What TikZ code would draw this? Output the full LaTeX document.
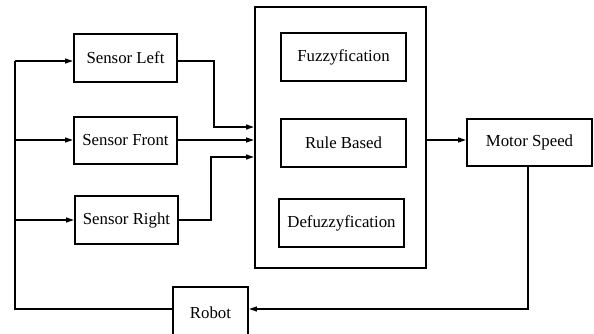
\documentclass[tikz,border=0pt]{standalone}
\usepackage{fontspec}
\setmainfont{Liberation Serif}
\usetikzlibrary{arrows.meta,calc}
\begin{document}
\begin{tikzpicture}[x=1pt,y=-1pt,
  box/.style={draw,line width=1.8pt,rectangle,inner sep=0pt,font=\fontsize{16.8}{20}\selectfont},
  arr/.style={line width=1.7pt,-{Triangle[length=8pt,width=4.8pt]}},
  ln/.style={line width=1.7pt}]
\useasboundingbox (0,0) rectangle (594,334);
\node[box,minimum width=103pt,minimum height=48pt] (sl) at (125.5,58) {Sensor Left};
\node[box,minimum width=103pt,minimum height=47pt] (sf) at (125.5,140.5) {Sensor Front};
\node[box,minimum width=103pt,minimum height=48pt] (sr) at (126.5,220) {Sensor Right};
\node[box,minimum width=171pt,minimum height=261pt] (big) at (340.5,137.5) {};
\node[box,minimum width=125pt,minimum height=48pt] (fuz) at (343.5,57) {Fuzzyfication};
\node[box,minimum width=125pt,minimum height=48pt] (rule) at (343.5,143) {Rule Based};
\node[box,minimum width=125pt,minimum height=48pt] (defuz) at (341.5,223) {Defuzzyfication};
\node[box,minimum width=125pt,minimum height=47pt] (motor) at (529.5,142.5) {Motor Speed};
\node[box,minimum width=75pt,minimum height=52pt] (robot) at (210.5,313) {Robot};
\coordinate (yl) at (0,61);
\coordinate (yf) at (0,140);
\coordinate (yr) at (0,220);
\coordinate (yb) at (0,309);
\coordinate (xa) at (15,0);
\coordinate (xl) at (214,0);
\coordinate (xr) at (211,0);
\coordinate (xm) at (528,0);
\coordinate (yil) at (0,127);
\coordinate (yir) at (0,157);
% feedback to sensors
\draw[ln] (robot.west |- yb) -- (xa |- yb) -- (xa |- yl);
\draw[arr] (xa |- yl) -- (sl.west |- yl);
\draw[arr] (xa |- yf) -- (sf.west |- yf);
\draw[arr] (xa |- yr) -- (sr.west |- yr);
% sensors to controller
\draw[arr] (sl.east |- yl) -- (xl |- yl) -- (xl |- yil) -- (big.west |- yil);
\draw[arr] (sf.east |- yf) -- (big.west |- yf);
\draw[arr] (sr.east |- yr) -- (xr |- yr) -- (xr |- yir) -- (big.west |- yir);
% controller to motor
\draw[arr] (big.east |- yf) -- (motor.west |- yf);
% motor to robot
\draw[arr] (xm |- motor.south) -- (xm |- yb) -- (robot.east |- yb);
\end{tikzpicture}
\end{document}
